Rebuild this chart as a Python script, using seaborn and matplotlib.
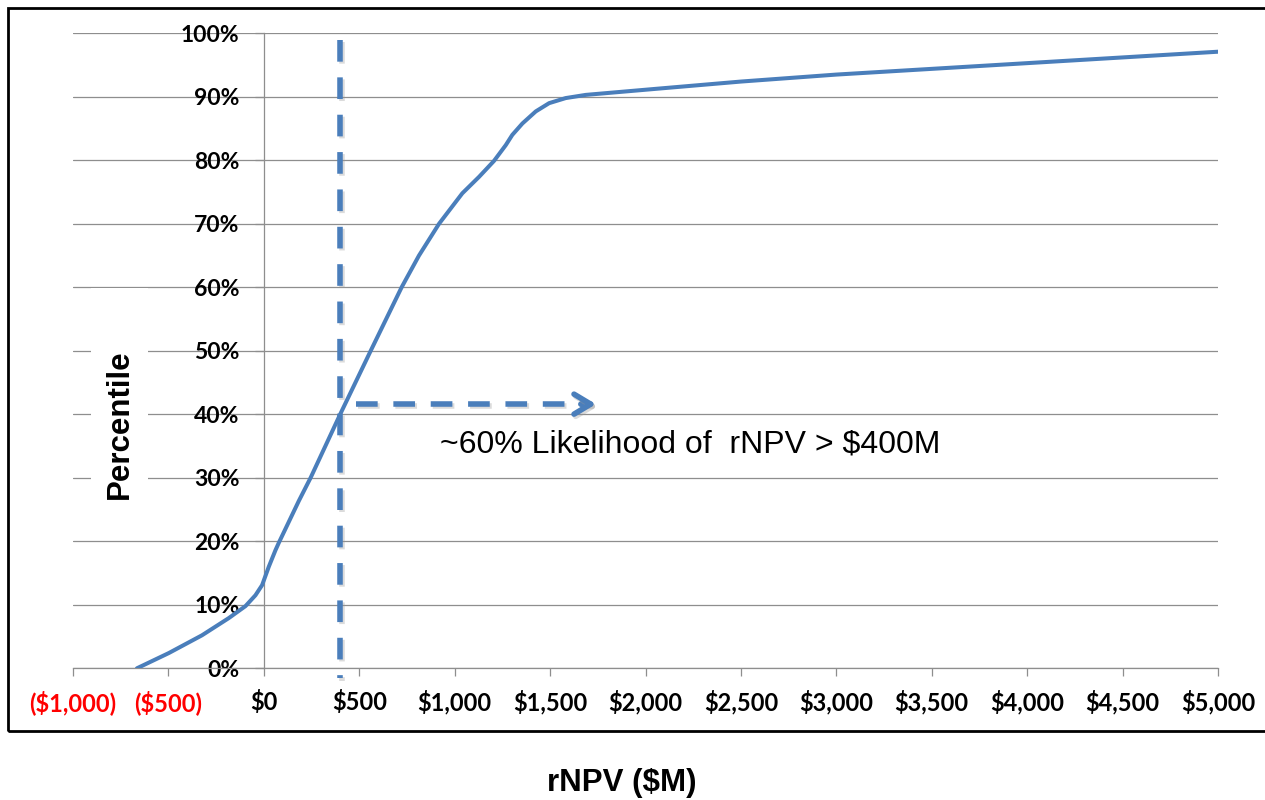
import matplotlib
matplotlib.use("Agg")
import matplotlib.pyplot as plt
import matplotlib.patheffects as pe
from matplotlib.patches import Rectangle
import pandas as pd
import seaborn as sns

# Cumulative distribution of rNPV ($M) vs percentile
rnpv = [-665, -498, -324, -184, -96, -44, -9, 26, 61, 79, 184, 245, 400, 560,
        722, 813, 918, 1040, 1128, 1206, 1268, 1302, 1355, 1425, 1495,
        1582, 1687, 2072, 2500, 3000, 3500, 4000, 4500, 5000]
percentile = [0.0, 2.4, 5.2, 7.9, 9.8, 11.5, 13.1, 16.0, 18.6, 19.8, 26.4, 30.0,
              40.0, 50.0, 60.0, 65.0, 70.0, 74.8, 77.4, 79.9, 82.4, 84.0,
              85.8, 87.7, 89.0, 89.8, 90.3, 91.3, 92.4, 93.5, 94.4, 95.3, 96.2,
              97.1]

x_ticks = [-1000, -500, 0, 500, 1000, 1500, 2000, 2500, 3000, 3500, 4000, 4500, 5000]
x_tick_labels = ["($1,000)", "($500)", "$0", "$500", "$1,000", "$1,500", "$2,000",
                 "$2,500", "$3,000", "$3,500", "$4,000", "$4,500", "$5,000"]
y_ticks = [0, 10, 20, 30, 40, 50, 60, 70, 80, 90, 100]
y_tick_labels = ["0%", "10%", "20%", "30%", "40%", "50%", "60%", "70%", "80%", "90%", "100%"]

threshold = 400          # $M
threshold_pct = 40       # percentile at threshold
arrow_end = 1741
annotation = "~60% Likelihood of  rNPV > $400M"

BLUE = "#4A7EBB"
GRID = "#8E8E8E"

sns.set_theme(style="white")
plt.rcParams["lines.scale_dashes"] = False
plt.rcParams["text.color"] = "black"
plt.rcParams["xtick.color"] = "black"
plt.rcParams["ytick.color"] = "black"

fig = plt.figure(figsize=(12.65, 8.0), dpi=100)
ax = fig.add_axes([73 / 1265, 1 - 668.3 / 800, (1218 - 73) / 1265, 635 / 800])

df = pd.DataFrame({"rNPV": rnpv, "Percentile": percentile})
sns.lineplot(data=df, x="rNPV", y="Percentile", ax=ax, color=BLUE, lw=2.9,
             sort=False, estimator=None, zorder=3)

ax.set_xlim(-1000, 5000)
ax.set_ylim(0, 100)

# Axes styling: y axis crosses at $0
for s in ["top", "right"]:
    ax.spines[s].set_visible(False)
ax.spines["left"].set_position(("data", 0))
ax.spines["left"].set_color(GRID)
ax.spines["left"].set_linewidth(0.9)
ax.spines["bottom"].set_color(GRID)
ax.spines["bottom"].set_linewidth(0.9)

ax.yaxis.grid(True, color=GRID, lw=0.9)
ax.xaxis.grid(False)
ax.set_axisbelow(True)

ax.set_xticks(x_ticks)
ax.set_xticklabels(x_tick_labels, fontfamily="Lato", fontweight="bold", fontsize=17)
for lbl, v in zip(ax.get_xticklabels(), x_ticks):
    lbl.set_color("#FF0000" if v < 0 else "black")
ax.set_yticks(y_ticks)
ax.set_yticklabels(y_tick_labels, fontfamily="Lato", fontweight="bold", fontsize=16.5,
                   color="black")

ax.tick_params(axis="x", direction="out", length=5.5, width=0.9, color=GRID, pad=10, bottom=True)
ax.tick_params(axis="y", direction="out", length=6.5, width=0.9, color=GRID, pad=11, left=True)
ax.set_xlabel("")
ax.set_ylabel("")

shadow = [pe.SimpleLineShadow(offset=(1.2, -1.6), shadow_color="#999999", alpha=0.35),
          pe.Normal()]

# Vertical dashed threshold line
ax.plot([threshold, threshold], [99, -1.6], color=BLUE, lw=4.0,
        dashes=(15.6, 11.3), solid_capstyle="butt", dash_capstyle="butt",
        clip_on=False, zorder=4, path_effects=shadow)

# Horizontal dashed arrow
ax.plot([483, arrow_end - 50], [threshold_pct + 1.6] * 2, color=BLUE, lw=4.0,
        dashes=(15.6, 11.3), dash_capstyle="butt", zorder=4, path_effects=shadow)
ax.annotate("", xy=(arrow_end, threshold_pct + 1.6),
            xytext=(arrow_end - 80, threshold_pct + 1.6),
            arrowprops=dict(arrowstyle="->,head_length=1.0,head_width=0.6",
                            color=BLUE, lw=4.0, shrinkA=0, shrinkB=0,
                            path_effects=shadow),
            zorder=4)

ax.text(923, 35.2, annotation, fontfamily="Liberation Sans", fontsize=23,
        ha="left", va="center", color="black")

# Axis titles
fig.add_artist(Rectangle((91 / 1265, 1 - 515 / 800), 57 / 1265, 227 / 800,
                         transform=fig.transFigure, facecolor="white",
                         edgecolor="none", zorder=1.5))
fig.text(120 / 1265, 1 - 424 / 800, "Percentile", rotation=90, ha="center",
         va="center", fontfamily="Liberation Sans", fontweight="bold",
         fontsize=22.5, color="black", zorder=3)
fig.text(622 / 1265, 1 - 783 / 800, "rNPV ($M)", ha="center", va="center",
         fontfamily="Liberation Sans", fontweight="bold", fontsize=22.5,
         color="black")

# Chart frame
fig.add_artist(Rectangle((8 / 1265, 1 - 731 / 800), 1.2, 723.5 / 800,
                         transform=fig.transFigure, fill=False, lw=2.0,
                         edgecolor="black", zorder=5, clip_on=False))

fig.savefig("out.png", dpi=100, facecolor="white")
